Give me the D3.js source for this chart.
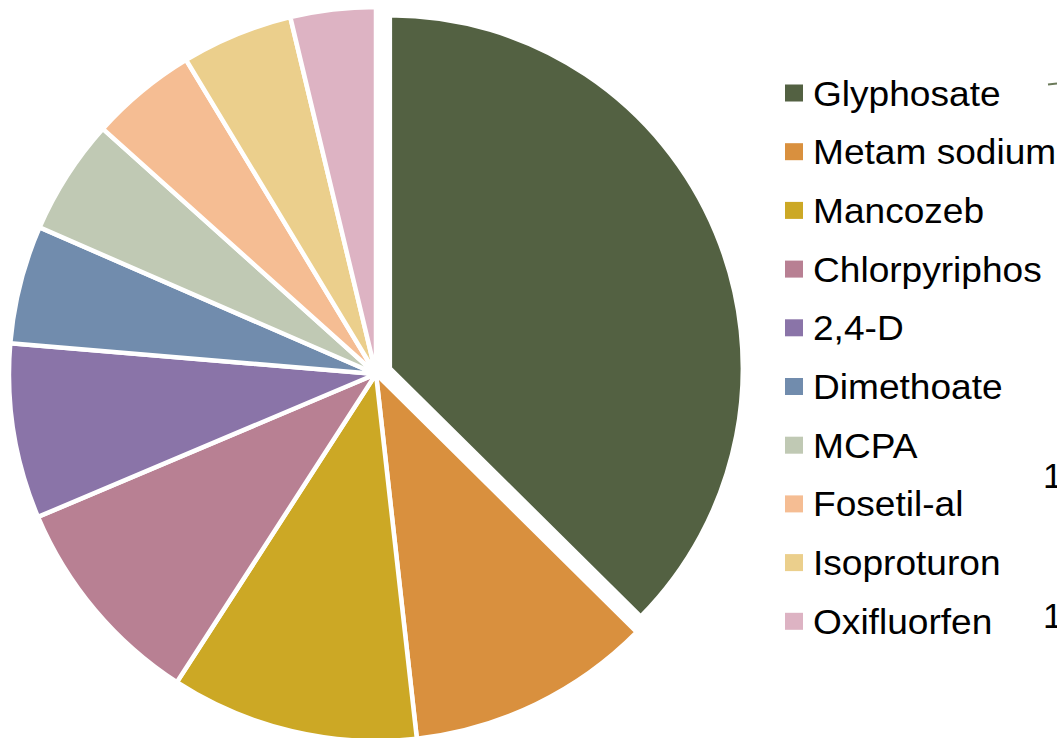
<!DOCTYPE html>
<html>
<head>
<meta charset="utf-8">
<script src="https://cdn.jsdelivr.net/npm/d3@7"></script>
<style>
  body { margin: 0; background: #fff; }
  svg { display: block; }
</style>
</head>
<body>
<div class="PieChart"></div>
<script>
// Data (share of total, %)
const pesticides = ["Glyphosate", "Metam sodium", "Mancozeb", "Chlorpyriphos", "2,4-D",
  "Dimethoate", "MCPA", "Fosetil-al", "Isoproturon", "Oxifluorfen"];
const shares = [37.4, 10.8, 10.9, 9.5, 7.7, 5.2, 5.1, 4.7, 4.9, 3.75];
const sliceColors = ["#536142", "#d9903e", "#cca825", "#b88093", "#8a74a8",
  "#718cad", "#c0c9b4", "#f5bd93", "#ebcf8c", "#ddb3c3"];
const explodedItem = "Glyphosate";

const width = 1057;
const height = 738;

const svg = d3.select(".PieChart").append("svg")
  .attr("width", width)
  .attr("height", height)
  .style("font-family", "'Liberation Sans', Arial, sans-serif");

const data = pesticides.map((name, i) => ({ name, value: shares[i] }));

const colorScale = d3.scaleOrdinal()
  .domain(pesticides)
  .range(sliceColors);

// Pie layout, keep original order, start at 12 o'clock going clockwise
const pie = d3.pie()
  .value(d => d.value)
  .sort(null);

const radius = 367;
const arc = d3.arc().innerRadius(0).outerRadius(radius);
const arcExploded = d3.arc().innerRadius(0).outerRadius(353);

const pieGroup = svg.append("g")
  .attr("transform", "translate(376, 374)");

pieGroup.selectAll("path")
  .data(pie(data))
  .join("path")
  .attr("d", d => d.data.name === explodedItem ? arcExploded(d) : arc(d))
  .attr("transform", d => {
    if (d.data.name !== explodedItem) return null;
    const mid = (d.startAngle + d.endAngle) / 2;
    const offset = 15; // pull the slice out a little
    return `translate(${Math.sin(mid) * offset}, ${-Math.cos(mid) * offset})`;
  })
  .attr("fill", d => colorScale(d.data.name))
  .attr("stroke", "white")
  .attr("stroke-width", 4.5)
  .attr("stroke-linejoin", "miter");

// Legend on the right
const legendY = d3.scalePoint()
  .domain(pesticides)
  .range([93, 93 + 58.7 * 9]);

const legend = svg.append("g")
  .attr("class", "legend");

const rows = legend.selectAll("g")
  .data(pesticides)
  .join("g")
  .attr("transform", d => `translate(785, ${legendY(d)})`);

rows.append("rect")
  .attr("x", 0)
  .attr("y", -8.5)
  .attr("width", 18)
  .attr("height", 17)
  .attr("fill", d => colorScale(d));

// labels are a bit wider than plain Arial in the reference
rows.append("text")
  .attr("transform", "translate(28, 12.5) scale(1.06, 1)")
  .style("font-size", "35px")
  .style("fill", "#000")
  .text(d => d);

// Bits of labels cut off at the right edge
svg.append("line")
  .attr("x1", 1048).attr("y1", 84.5)
  .attr("x2", 1057).attr("y2", 83.5)
  .attr("stroke", "#6b7a5a")
  .attr("stroke-width", 2);

svg.selectAll(".cut-label")
  .data([488, 628])
  .join("text")
  .attr("class", "cut-label")
  .attr("x", 1043)
  .attr("y", d => d)
  .style("font-size", "35px")
  .text("1");
</script>
</body>
</html>
